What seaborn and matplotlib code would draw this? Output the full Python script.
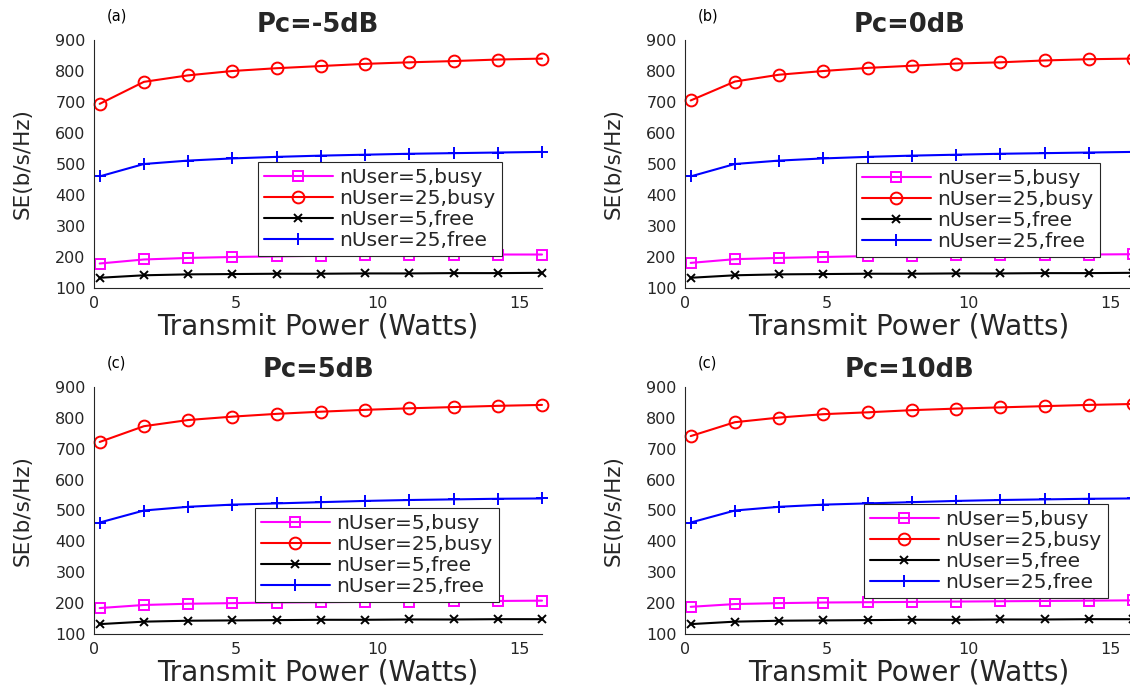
import matplotlib
matplotlib.use("Agg")
import matplotlib.pyplot as plt
import seaborn as sns
import pandas as pd

sns.set_style("white")
plt.rcParams['font.family'] = ['DejaVu Sans']

# ---- data ----
power_w = [0.2, 1.76, 3.32, 4.88, 6.44, 8.0, 9.56, 11.12, 12.68, 14.24, 15.8]

titles = ["Pc=-5dB", "Pc=0dB", "Pc=5dB", "Pc=10dB"]
tags = ["(a)", "(b)", "(c)", "(c)"]
series_names = ["nUser=5,busy", "nUser=25,busy", "nUser=5,free", "nUser=25,free"]

a_busy5 = [179, 192, 197, 200, 202, 204, 205, 206, 207, 208, 208]
a_busy25 = [694, 765, 786, 800, 809, 816, 823, 828, 832, 837, 840]
a_free5 = [133, 141, 144, 145, 146, 146, 147, 147, 148, 148, 149]
a_free25 = [460, 500, 511, 518, 523, 527, 530, 533, 535, 537, 539]

b_busy5 = [181, 193, 197, 200, 203, 204, 205, 206, 207, 208, 209]
b_busy25 = [705, 766, 788, 800, 810, 817, 824, 828, 834, 838, 840]
b_free5 = [133, 141, 144, 145, 146, 146, 147, 147, 148, 148, 149]
b_free25 = [460, 500, 511, 518, 523, 527, 530, 533, 535, 537, 539]

c_busy5 = [184, 194, 198, 200, 202, 203, 204, 205, 206, 207, 208]
c_busy25 = [722, 773, 793, 804, 813, 820, 826, 831, 835, 839, 842]
c_free5 = [132, 140, 143, 144, 145, 146, 146, 147, 147, 148, 148]
c_free25 = [461, 500, 512, 519, 523, 527, 531, 534, 536, 538, 539]

d_busy5 = [188, 197, 200, 202, 203, 204, 205, 206, 207, 208, 209]
d_busy25 = [741, 786, 801, 812, 818, 825, 830, 834, 838, 842, 845]
d_free5 = [132, 140, 143, 144, 145, 146, 146, 147, 147, 148, 148]
d_free25 = [461, 500, 512, 519, 523, 527, 531, 534, 536, 538, 539]

panels = [
    [a_busy5, a_busy25, a_free5, a_free25],
    [b_busy5, b_busy25, b_free5, b_free25],
    [c_busy5, c_busy25, c_free5, c_free25],
    [d_busy5, d_busy25, d_free5, d_free25],
]

x_ticks = [0, 5, 10, 15]
y_ticks = [100, 200, 300, 400, 500, 600, 700, 800, 900]

# ---- styles ----
colors = ["#FF00FF", "#FF0000", "#000000", "#0000FF"]
markers = ["s", "o", "x", "+"]
msizes = [7, 8.5, 6, 8]
dark = "#262626"

W, H = 1130, 686
fig = plt.figure(figsize=(W / 100, H / 100), dpi=100)

def fx(px):
    return px / W

def fy(py):
    return 1 - py / H

ax_pos = [
    [fx(94), fy(288), fx(448), 248 / H],
    [fx(685), fy(288), fx(448), 248 / H],
    [fx(94), fy(634), fx(448), 247 / H],
    [fx(685), fy(634), fx(448), 247 / H],
]
legend_anchor = [(fx(258), fy(162)), (fx(856), fy(163)), (fx(255), fy(508)), (fx(864), fy(504))]
title_pads = [6, 6, 7.5, 7.5]

for i in range(4):
    ax = fig.add_axes(ax_pos[i])
    for j in range(4):
        df = pd.DataFrame({"P": power_w, "SE": panels[i][j]})
        sns.lineplot(data=df, x="P", y="SE", ax=ax, color=colors[j], marker=markers[j],
                     markersize=msizes[j], markerfacecolor="none", markeredgecolor=colors[j],
                     markeredgewidth=1.4, linewidth=1.5, label=series_names[j], clip_on=False)
    ax.set_xlim(0, 15.8)
    ax.set_ylim(100, 900)
    ax.set_xticks(x_ticks)
    ax.set_yticks(y_ticks)
    for s in ["top", "right"]:
        ax.spines[s].set_visible(False)
    for s in ["left", "bottom"]:
        ax.spines[s].set_color(dark)
        ax.spines[s].set_linewidth(0.8)
    ax.tick_params(direction="in", length=3.5, width=0.6, colors=dark, labelsize=11.5, pad=6)
    ax.set_xlabel("Transmit Power (Watts)", fontsize=20, color=dark)
    ax.set_ylabel("SE(b/s/Hz)", fontsize=15.5, color=dark)
    ax.xaxis.set_label_coords(0.5, -0.1)
    ax.yaxis.set_label_coords(-0.136, 0.5)
    ax.set_title(titles[i], fontsize=18.5, fontweight="bold", pad=title_pads[i])
    ax.text(0.051, 1.097, tags[i], transform=ax.transAxes, ha="center", va="center",
            fontsize=10.5, color="#000000")
    leg = ax.legend(loc="upper left", bbox_to_anchor=legend_anchor[i], bbox_transform=fig.transFigure,
                    fancybox=False, framealpha=1, edgecolor=dark, fontsize=14.5,
                    handlelength=3.4, handletextpad=0.35, labelspacing=0.1, borderpad=0.3,
                    borderaxespad=0)
    leg.get_frame().set_linewidth(0.8)

fig.savefig("out.png", dpi=100)
